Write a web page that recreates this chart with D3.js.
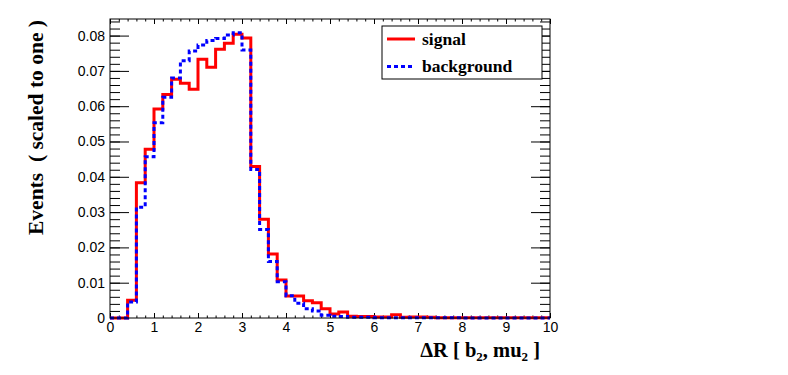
<!DOCTYPE html>
<html>
<head>
<meta charset="utf-8">
<script src="https://cdn.jsdelivr.net/npm/d3@7"></script>
<style>
  body { margin: 0; background: #fff; }
  svg { display: block; }
  .tick text { font-family: "Liberation Sans", Arial, sans-serif; font-size: 14px; fill: #000; }
  .axis path { display: none; }
  .axis line { stroke: #000; stroke-width: 1; }
</style>
</head>
<body>
<svg id="chart" width="788" height="375"></svg>
<script>
// bin edges: 0 .. 10 in steps of 0.2 (50 bins)
var binWidth = 0.2;
var signal = [
  0, 0, 0.0050, 0.0383, 0.0478, 0.0592, 0.0633, 0.0676, 0.0665, 0.0648,
  0.0733, 0.0710, 0.0761, 0.0778, 0.0804, 0.0793, 0.0429, 0.0280, 0.0181, 0.0108,
  0.0062, 0.0062, 0.0049, 0.0043, 0.0026, 0.0011, 0.0017, 0.0005, 0.0004, 0.0004,
  0.0003, 0.0003, 0.0009, 0.0002, 0.0003, 0.0003, 0.0002, 0.0001, 0.0001, 0.0001,
  0.0001, 0.0001, 0.0001, 0.0001, 0.0001, 0.0001, 0.0001, 0.0001, 0.0001, 0.0001
];
var background = [
  0, 0, 0.0045, 0.0314, 0.0457, 0.0553, 0.0625, 0.0680, 0.0729, 0.0756,
  0.0773, 0.0786, 0.0792, 0.0802, 0.0808, 0.0759, 0.0421, 0.0251, 0.0160, 0.0103,
  0.0063, 0.0042, 0.0026, 0.0020, 0.0008, 0.0005, 0.0004, 0.0002, 0.0002, 0.0002,
  0.0001, 0.0001, 0.0001, 0.0001, 0.0001, 0.0001, 0.0001, 0.0001, 0.0001, 0.0001,
  0, 0, 0, 0, 0, 0, 0, 0, 0, 0
];
var xTicks = [0, 1, 2, 3, 4, 5, 6, 7, 8, 9, 10];
var yTicks = [0, 0.01, 0.02, 0.03, 0.04, 0.05, 0.06, 0.07, 0.08];
var legendLabels = ["signal", "background"];
var seriesColors = ["#ff0000", "#0000ff"];

var frame = {left: 110, right: 550, top: 19, bottom: 318};

var svg = d3.select("#chart");

var x = d3.scaleLinear().domain([0, 10]).range([frame.left, frame.right]);
var y = d3.scaleLinear().domain([0, 0.0847]).range([frame.bottom, frame.top]);

// minor tick values
var xMinor = d3.range(0, 10.001, 0.2).map(function(d){ return +d.toFixed(1); });
var yMinor = d3.range(0, 0.0847, 0.002).map(function(d){ return +d.toFixed(3); });

// bottom axis (ticks pointing in)
svg.append("g").attr("class", "axis")
  .attr("transform", "translate(0," + frame.bottom + ")")
  .call(d3.axisBottom(x).tickValues(xMinor).tickSize(-2.5).tickFormat(""));
svg.append("g").attr("class", "axis")
  .attr("transform", "translate(0," + frame.bottom + ")")
  .call(d3.axisBottom(x).tickValues(xTicks).tickSize(-5).tickPadding(4).tickFormat(d3.format("d")));
// top axis
svg.append("g").attr("class", "axis")
  .attr("transform", "translate(0," + frame.top + ")")
  .call(d3.axisTop(x).tickValues(xMinor).tickSize(-2.5).tickFormat(""));
svg.append("g").attr("class", "axis")
  .attr("transform", "translate(0," + frame.top + ")")
  .call(d3.axisTop(x).tickValues(xTicks).tickSize(-5).tickFormat(""));

// left axis
svg.append("g").attr("class", "axis")
  .attr("transform", "translate(" + frame.left + ",0)")
  .call(d3.axisLeft(y).tickValues(yMinor).tickSize(-10).tickFormat(""));
svg.append("g").attr("class", "axis")
  .attr("transform", "translate(" + frame.left + ",0)")
  .call(d3.axisLeft(y).tickValues(yTicks).tickSize(-19).tickPadding(5)
    .tickFormat(function(d){ return d === 0 ? "0" : d3.format(".2f")(d); }));
// right axis
svg.append("g").attr("class", "axis")
  .attr("transform", "translate(" + frame.right + ",0)")
  .call(d3.axisRight(y).tickValues(yMinor).tickSize(-10).tickFormat(""));
svg.append("g").attr("class", "axis")
  .attr("transform", "translate(" + frame.right + ",0)")
  .call(d3.axisRight(y).tickValues(yTicks).tickSize(-19).tickFormat(""));

// histogram outlines
function stepPoints(vals){
  var pts = vals.map(function(v, i){ return [i * binWidth, v]; });
  pts.push([vals.length * binWidth, vals[vals.length - 1]]);
  return pts;
}
var line = d3.line()
  .x(function(d){ return x(d[0]); })
  .y(function(d){ return y(d[1]); })
  .curve(d3.curveStepAfter);

svg.append("path")
  .attr("d", line(stepPoints(signal)))
  .attr("fill", "none")
  .attr("stroke", seriesColors[0])
  .attr("stroke-width", 3);
svg.append("path")
  .attr("d", line(stepPoints(background)))
  .attr("fill", "none")
  .attr("stroke", seriesColors[1])
  .attr("stroke-width", 3)
  .attr("stroke-dasharray", "4,3");

// frame
svg.append("rect")
  .attr("x", frame.left).attr("y", frame.top)
  .attr("width", frame.right - frame.left)
  .attr("height", frame.bottom - frame.top)
  .attr("fill", "none").attr("stroke", "#000").attr("stroke-width", 1);

// legend
var lg = svg.append("g");
lg.append("rect")
  .attr("x", 382).attr("y", 26).attr("width", 160).attr("height", 53)
  .attr("fill", "#fff").attr("stroke", "#000").attr("stroke-width", 1);
legendLabels.forEach(function(lab, i){
  var ly = 39 + i * 27.5;
  var l = lg.append("line")
    .attr("x1", 387).attr("x2", 415).attr("y1", ly).attr("y2", ly)
    .attr("stroke", seriesColors[i]).attr("stroke-width", 3);
  if (i === 1) l.attr("stroke-dasharray", "4,3");
  lg.append("text")
    .attr("x", 422).attr("y", ly + 5.5)
    .attr("font-family", "'Liberation Serif', 'Times New Roman', serif")
    .attr("font-weight", "bold")
    .attr("font-size", 17.5)
    .text(lab);
});

// axis titles
var xt = svg.append("text")
  .attr("x", 540).attr("y", 357)
  .attr("text-anchor", "end")
  .attr("font-family", "'Liberation Serif', 'Times New Roman', serif")
  .attr("font-weight", "bold")
  .attr("font-size", 20.5)
  .style("white-space", "pre");
xt.append("tspan").text("\u0394R [ b");
xt.append("tspan").attr("font-size", 13).attr("dy", 4).text("2");
xt.append("tspan").attr("dy", -4).text(", mu");
xt.append("tspan").attr("font-size", 13).attr("dy", 4).text("2");
xt.append("tspan").attr("dy", -4).text(" ]");

svg.append("text")
  .attr("transform", "translate(43,20) rotate(-90)")
  .attr("text-anchor", "end")
  .attr("font-family", "'Liberation Serif', 'Times New Roman', serif")
  .attr("font-weight", "bold")
  .attr("font-size", 21.5)
  .style("white-space", "pre")
  .text("Events  ( scaled to one )");
</script>
</body>
</html>
